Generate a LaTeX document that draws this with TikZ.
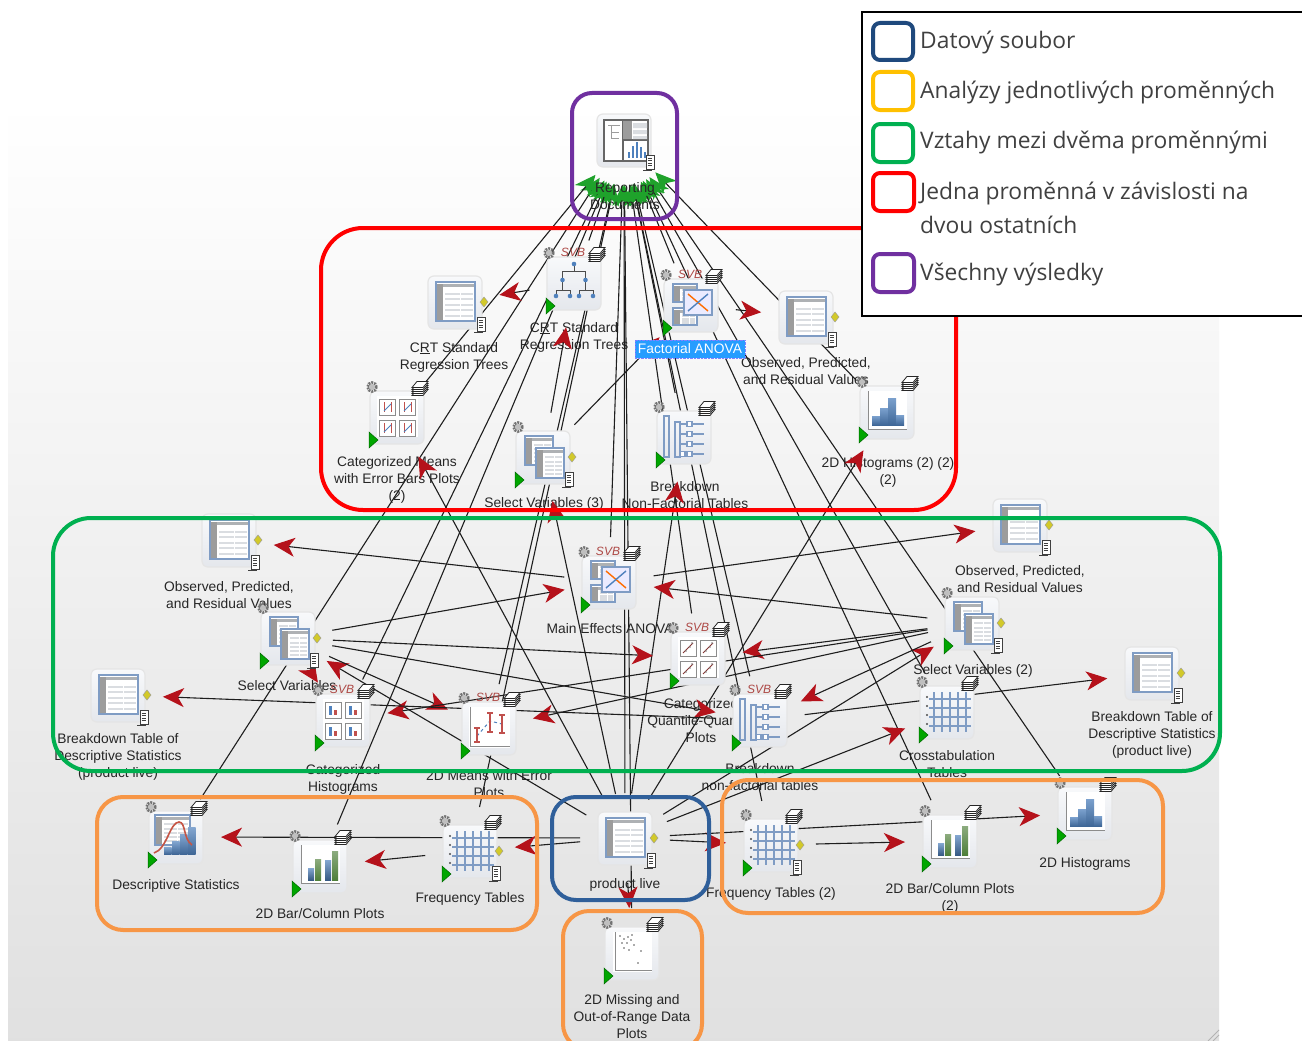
\documentclass[tikz,border=0pt]{standalone}
\usepackage{fontspec}
\setmainfont{Liberation Sans}
\newfontfamily\legfont{Open Sans}
\usetikzlibrary{arrows.meta}
\definecolor{cblue}{HTML}{7F9CC4}
\definecolor{cbar}{HTML}{4F81BD}
\definecolor{cgrn}{HTML}{4F7F3A}
\definecolor{cgray}{HTML}{9C9C9C}
\definecolor{cpale}{HTML}{DADDE1}
\definecolor{cred}{HTML}{C0504D}
\definecolor{arrred}{HTML}{B5121B}
\definecolor{arrgrn}{HTML}{1FA22B}
\definecolor{linec}{HTML}{1E1E1E}
\definecolor{boxpurple}{HTML}{7030A0}
\definecolor{boxred}{HTML}{FF0000}
\definecolor{boxgreen}{HTML}{00B050}
\definecolor{boxorange}{HTML}{F79646}
\definecolor{boxblue}{HTML}{2F5F9A}
\definecolor{boxnavy}{HTML}{1F497D}
\definecolor{boxyellow}{HTML}{FFC000}
\definecolor{legtext}{HTML}{404040}
\definecolor{icontop}{HTML}{F8F9FB}
\definecolor{iconbot}{HTML}{E4E7EC}
\tikzset{
  hub/.style={circle,minimum size=90pt,inner sep=0pt,outer sep=0pt},
  lbl/.style={align=center,inner sep=0pt,text=black!85,font=\fontsize{13.8}{17}\selectfont},
  redlink/.style={draw=linec,line width=1.1pt,-{Stealth[length=21pt,width=19pt,inset=6pt,color=arrred]}},
  grnlink/.style={draw=linec,line width=1.1pt,-{Stealth[length=21pt,width=19pt,inset=6pt,color=arrgrn]}},
  zone/.style={draw,line width=4pt},
  legbox/.style={draw,line width=4pt,rounded corners=7pt},
  legtxt/.style={anchor=west,inner sep=0pt,text=legtext,align=left,font=\legfont\fontsize{22.8}{34}\selectfont},
  svbtxt/.style={inner sep=0pt,text=cred!90!black,font=\itshape\fontsize{12}{13}\selectfont},
  frame/.style={draw=cblue,line width=1.1pt},
}
% ---------- decoration parts (local coordinates, icon centre = 0,0)
\newcommand\IBase{%
  \shade[rounded corners=6pt,top color=icontop,bottom color=iconbot,draw=black!10,line width=1.2pt] (-27,-26) rectangle (27,27);}
\newcommand\IGear{\draw[black!55,line width=2.8pt,dash pattern=on 1.8pt off 1pt] (-25,-30) circle (4.4pt);\fill[black!25] (-25,-30) circle (3pt);}
\newcommand\IStack{\begin{scope}[shift={(23,-29)}]
  \foreach \d in {4.5,2.5,.5,-1.5,-3.5}{\filldraw[fill=white,draw=black!85,line width=.8pt] (-8,3+\d) -- (-3,-3+\d) -- (8,-3+\d) -- (3,3+\d) -- cycle;}
  \end{scope}}
\newcommand\ITri{\filldraw[fill=green!65!black,draw=green!40!black,line width=.5pt] (-28,15) -- (-19,23) -- (-28,31) -- cycle;}
\newcommand\IDia{\filldraw[fill=yellow!80!black,draw=black!40,line width=.4pt] (29,-5) -- (33,0) -- (29,5) -- (25,0) -- cycle;}
\newcommand\IScroll{\begin{scope}[shift={(26,22)}]
  \filldraw[fill=white,draw=black!75,line width=.8pt] (-4,-7) rectangle (4,7);
  \foreach \d in {-4,-1.5,1,3.5}{\draw[black!75,line width=.8pt] (-2.3,\d) -- (2.3,\d);}
  \draw[black!75,line width=.8pt] (-7,8) -- (2,8);\end{scope}}
\newcommand\ISvb[1]{\node[svbtxt] (#1) at (-1,-31) {SVB};}
% ---------- art
\newcommand\tabl[4]{%
  \fill[white] (#1,#2) rectangle (#3,#4);
  \fill[cgray] (#1,#2+2) rectangle (#1+7,#4);
  \fill[cpale!80!black] (#1+7,#2+2) rectangle (#3,#2+5);
  \foreach \r in {.28,.42,.56,.70,.84}{\fill[cpale] (#1+9,{#2+((#4)-(#2))*\r}) rectangle (#3-2,{#2+((#4)-(#2))*\r+2});}
  \draw[white,line width=.8pt] ({(#1+#3+9)/2},#2+6) -- ({(#1+#3+9)/2},#4-1);
  \draw[frame] (#1,#2) rectangle (#3,#4);}
\newcommand\ArtTable{\tabl{-19}{-20}{20}{19}}
\newcommand\ArtDouble{\tabl{-18}{-21}{10}{8}\tabl{-7}{-9}{21}{21}}
\newcommand\ArtAnova{\tabl{-18}{-21}{6}{-3}\tabl{-18}{3}{6}{20}
  \filldraw[fill=white!92!blue,draw=cblue,line width=1.2pt] (-7,-15) rectangle (21,10);
  \draw[orange!85!red,line width=1.4pt] (-3,-11) -- (17,6);
  \draw[cbar,line width=1.4pt] (-3,6) -- (17,-11);}
\newcommand\ArtTree{\begin{scope}[draw=black!70,line width=1pt]
  \draw (0,-19) -- (0,-12) (-11.5,-3) -- (-11.5,-12) -- (11.5,-12) -- (11.5,-3)
   (-18,13) -- (-18,7) -- (-4,7) -- (-4,13) (5,13) -- (5,7) -- (19,7) -- (19,13) (-11.5,-3) -- (-11.5,7) (11.5,-3) -- (11.5,7);
  \end{scope}
  \foreach \p in {(0,-19),(-11.5,-3),(11.5,-3),(-18,13),(-4,13),(5,13),(19,13)}{\fill[cbar] \p circle (2.3pt);}}
\newcommand\ArtBreak{\begin{scope}[draw=cblue,line width=1.1pt]
  \draw (-20,-21) rectangle (-15,20) (-9,-15) rectangle (-4,20);
  \foreach \y in {-13,-3,7,17}{\draw (-4,\y) -- (20,\y);\filldraw[fill=white] (3,\y-2.5) rectangle (8,\y+2.5);}
  \filldraw[fill=white] (-4,14.5) rectangle (1,19.5);
  \end{scope}}
\newcommand\ArtGrid{\foreach \x in {-13,-5,3,11,19}{\draw[cblue,line width=1.1pt] (\x,-20) -- (\x,20);}
  \foreach \y in {-13,-4,5,14}{\draw[cblue,line width=1.1pt] (-18,\y) -- (24,\y);}
  \foreach \y in {-15,-6,3,12}{\fill[black!70] (-20,\y) circle (1.2pt);}}
\newcommand\ArtBars{\fill[white] (-19,-21) rectangle (20,18);\draw[black!45,line width=.9pt] (-19,-21) -- (-19,17) -- (20,17);
  \foreach \x/\h in {-12/12,5/20}{\shade[bottom color=cbar!70!black,top color=cbar!70] (\x,14) rectangle (\x+6,14-\h);}
  \foreach \x/\h in {-5/21,12/29}{\shade[bottom color=cgrn,top color=cgrn!65] (\x,14) rectangle (\x+6,14-\h);}}
\newcommand\ArtHist{\fill[white] (-19,-21) rectangle (20,18);\draw[black!45,line width=.9pt] (-19,-21) -- (-19,17) -- (20,17);
  \foreach \x/\h in {-15/9,-7/17,1/27,9/10}{\shade[bottom color=cbar!80!black,top color=cbar!75] (\x,13) rectangle (\x+8,13-\h);}}
\newcommand\ArtCurve{\tabl{-21}{-22}{14}{8}
  \foreach \x/\h in {-12/7,-4/13,4/20,12/27}{\shade[bottom color=cbar!80!black,top color=cbar!70] (\x,17) rectangle (\x+7.6,17-\h);}
  \draw[cred!90!orange,line width=1.6pt] (-22,16) .. controls (-9,12) and (-6,-15) .. (3,-15) .. controls (10,-15) and (7,2) .. (16,8);}
\newcommand\ArtMiss{\fill[white] (-19,-21) rectangle (20,19);\draw[black!45,line width=.9pt] (-17,-21) -- (-17,17) -- (20,17);
  \foreach \p in {(-12,-17),(-8,-14),(-4,-16),(0,-18),(-10,-10),(-5,-10),(-1,-13),(2,-8),(-8,-5),(-3,-3),(9,-2),(6,10)}{\fill[black!65] \p circle (.9pt);}}
\newcommand\panel[3]{\begin{scope}[shift={(#1,#2)}]\filldraw[fill=white,draw=black!45,line width=.8pt] (-8,-8) rectangle (8,8);#3\end{scope}}
\newcommand\pmean{\draw[cred,line width=.9pt] (-3,-5) -- (-3,5) (4,-5) -- (4,5);\draw[cbar,line width=.8pt] (-3,4) -- (4,-3);}
\newcommand\phist{\fill[cbar] (-4,5) rectangle (-1,-4);\fill[cred] (1,5) rectangle (4,0);}
\newcommand\pqq{\draw[cred!70!black,line width=.9pt] (-5,5) -- (5,-5);\fill[black!50] (-2,3) circle (.8pt) (2,-1) circle (.8pt) (4,-5) circle (.8pt);}
\newcommand\ArtPanels[1]{\fill[white] (-20,-21) rectangle (21,20);\panel{-10}{-10}{#1}\panel{10}{-10}{#1}\panel{-10}{11}{#1}\panel{10}{11}{#1}}
\newcommand\ArtMeans{\fill[white] (-20,-21) rectangle (21,20);\draw[black!45,line width=.9pt] (-19,-21) -- (-19,18) -- (21,18);
  \draw[cbar,line width=1pt,dashed] (-12,8) -- (1,-7) -- (13,-4);
  \draw[cred,line width=1.1pt] (-12,0) -- (-12,14) (-15,0) -- (-9,0) (-15,14) -- (-9,14) (1,-15) -- (1,4) (-2,-15) -- (4,-15) (-2,4) -- (4,4) (13,-13) -- (13,5) (10,-13) -- (16,-13) (10,5) -- (16,5);}
\newcommand\ArtReport{\fill[white] (-20,-20) rectangle (24,21);\draw[black!60,line width=1.1pt] (-20,-20) rectangle (24,21);
  \draw[black!60,line width=1.1pt] (-1,-20) -- (-1,21) (-1,0) -- (24,0);
  \draw[cgray,line width=.8pt] (-16,-15) -- (-4,-15) (-13,-15) -- (-13,-2) -- (-5,-2) (-13,-8) -- (-5,-8);
  \fill[cgray] (-1,-19) rectangle (8,-1);\fill[cpale] (9,-17) rectangle (23,-12) (9,-10) rectangle (23,-6) (9,-4) rectangle (23,-1);
  \foreach \x/\h in {4/6,8/12,12/16,16/11,20/6}{\fill[cbar] (\x,18) rectangle (\x+2.4,18-\h);}}
\newcommand\Ico[3]{\begin{scope}[shift={(#1,#2)}]\IBase #3\end{scope}}
\newcommand\Lab[4]{\node[lbl] (#1) at (#2,#3) {#4};}
\newcommand\Crt{C\underline{R}T Standard\\Regression Trees}
\begin{document}
\begin{tikzpicture}[x=1pt,y=-1pt]
\useasboundingbox (0,0) rectangle (1302,1041);
\fill[white] (0,0) rectangle (1302,1041);
\shade[top color=white,bottom color=black!12,middle color=black!6] (8,100) rectangle (1219,1041);
\draw[black!30,line width=.8pt] (1208,1041) -- (1219,1030) (1213,1041) -- (1219,1035);
% ---------- anchors
\node[hub] (rep) at (624,140) {};
\node[hub] (crtree) at (574,283) {};
\node[hub] (crtab) at (455,302) {};
\node[hub] (fanova) at (691,305) {};
\node[hub] (obst) at (806,317) {};
\node[hub] (cmeans) at (397,417) {};
\node[hub] (sviii) at (543,457) {};
\node[hub] (bdtop) at (684,437) {};
\node[hub] (histii) at (887,412) {};
\node[hub] (obsl) at (229,540) {};
\node[hub] (obsr) at (1020,525) {};
\node[hub] (main) at (609,582) {};
\node[hub] (sv) at (288,638) {};
\node[hub] (svii) at (972,623) {};
\node[hub] (catq) at (698,658) {};
\node[hub] (bdbot) at (760,720) {};
\node[hub] (cross) at (947,712) {};
\node[hub] (btr) at (1152,673) {};
\node[hub] (btl) at (118,695) {};
\node[hub] (cathist) at (343,720) {};
\node[hub] (means) at (489,728) {};
\node[hub] (desc) at (176,837) {};
\node[hub] (barl) at (320,866) {};
\node[hub] (freql) at (470,851) {};
\node[hub] (prod) at (625,838) {};
\node[hub] (freqr) at (771,845) {};
\node[hub] (barr) at (950,841) {};
\node[hub] (hist) at (1085,813) {};
\node[hub] (miss) at (632,953) {};
% ---------- labels
\Lab{lcrtab}{454}{357}{\Crt}
\Lab{lcrtree}{574}{337}{\Crt}
\Lab{lobst}{806}{371}{Observed, Predicted,\\and Residual Values}
\Lab{lcmeans}{397}{480}{Categorized Means\\with Error Bars Plots\\(2)}
\Lab{lsviii}{544}{504}{Select Variables (3)}
\Lab{lbdtop}{685}{495}{Breakdown\\Non-Factorial Tables}
\Lab{lhistii}{888}{472}{2D Histograms (2) (2)\\(2)}
\Lab{lobsl}{229}{595}{Observed, Predicted,\\and Residual Values}
\Lab{lobsr}{1020}{579}{Observed, Predicted,\\and Residual Values}
\Lab{lmain}{610}{629}{Main Effects ANOVA}
\Lab{lsv}{287}{686}{Select Variables}
\Lab{lsvii}{973}{671}{Select Variables (2)}
\Lab{lcatq}{701}{721}{Categorized\\Quantile-Quantile\\Plots}
\Lab{lbdbot}{760}{777}{Breakdown\\non-factorial tables}
\Lab{lcross}{947}{764}{Crosstabulation\\Tables}
\Lab{lbtr}{1152}{735}{Breakdown Table of\\Descriptive Statistics\\(product live)}
\Lab{lbtl}{118}{757}{Breakdown Table of\\Descriptive Statistics\\(product live)}
\Lab{lcathist}{343}{779}{Categorized\\Histograms}
\Lab{lmeans}{489}{784}{2D Means with Error\\Plots}
\Lab{ldesc}{176}{886}{Descriptive Statistics}
\Lab{lbarl}{320}{914}{2D Bar/Column Plots}
\Lab{lfreql}{470}{899}{Frequency Tables}
\Lab{lprod}{625}{885}{product live}
\Lab{lfreqr}{771}{894}{Frequency Tables (2)}
\Lab{lbarr}{950}{898}{2D Bar/Column Plots\\(2)}
\Lab{lhist}{1085}{864}{2D Histograms}
\Lab{lmiss}{632}{1016.5}{2D Missing and\\Out-of-Range Data\\Plots}
% ---------- connectors
\foreach \a in {desc,barl,freql,prod,miss,freqr,barr,hist,cross,bdbot,catq,main,means,cathist,cmeans,crtree,fanova,bdtop,histii}{\draw[grnlink] (\a) -- (rep);}
\foreach \a/\b in {prod/desc,prod/freql,freql/barl,prod/freqr,prod/hist,freqr/barr,prod/miss,prod/sv,prod/svii,prod/sviii,prod/bdtop,prod/cross,prod/cmeans,prod/histii,
  sv/main,sv/catq,sv/bdbot,sv/means,sv/cathist,svii/main,svii/catq,svii/bdbot,svii/means,svii/cathist,main/obsl,main/obsr,bdbot/btl,bdbot/btr,
  sviii/crtree,sviii/fanova,crtree/crtab,fanova/obst}{\draw[redlink] (\a) -- (\b);}
\Lab{lrep}{625}{196}{Reporting\\Documents}
% ---------- icons
\Ico{624}{140}{\ArtReport\IScroll}
\Ico{574}{283}{\ArtTree\IGear\ISvb{svba}\IStack\ITri}
\Ico{455}{302}{\ArtTable\IDia\IScroll}
\Ico{691}{305}{\ArtAnova\IGear\ISvb{svbb}\IStack\ITri}
\Ico{806}{317}{\ArtTable\IDia\IScroll}
\Ico{397}{417}{\ArtPanels{\pmean}\IGear\IStack\ITri}
\Ico{543}{457}{\ArtDouble\IGear\IDia\IScroll\ITri}
\Ico{684}{437}{\ArtBreak\IGear\IStack\ITri}
\Ico{887}{412}{\ArtHist\IGear\IStack\ITri}
\Ico{229}{540}{\ArtTable\IDia\IScroll}
\Ico{1020}{525}{\ArtTable\IDia\IScroll}
\Ico{609}{582}{\ArtAnova\IGear\ISvb{svbc}\IStack\ITri}
\Ico{288}{638}{\ArtDouble\IGear\IDia\IScroll\ITri}
\Ico{972}{623}{\ArtDouble\IGear\IDia\IScroll\ITri}
\Ico{698}{658}{\ArtPanels{\pqq}\IGear\ISvb{svbd}\IStack\ITri}
\Ico{760}{720}{\ArtBreak\IGear\ISvb{svbe}\IStack\ITri}
\Ico{947}{712}{\ArtGrid\IGear\IStack\ITri}
\Ico{1152}{673}{\ArtTable\IDia\IScroll}
\Ico{118}{695}{\ArtTable\IDia\IScroll}
\Ico{343}{720}{\ArtPanels{\phist}\IGear\ISvb{svbf}\IStack\ITri}
\Ico{489}{728}{\ArtMeans\IGear\ISvb{svbg}\IStack\ITri}
\Ico{176}{837}{\ArtCurve\IGear\IStack\ITri}
\Ico{320}{866}{\ArtBars\IGear\IStack\ITri}
\Ico{470}{851}{\ArtGrid\IGear\IStack\IDia\IScroll\ITri}
\Ico{625}{838}{\ArtTable\IDia\IScroll}
\Ico{771}{845}{\ArtGrid\IGear\IStack\IDia\IScroll\ITri}
\Ico{950}{841}{\ArtBars\IGear\IStack\ITri}
\Ico{1085}{813}{\ArtHist\IGear\IStack\ITri}
\Ico{632}{953}{\ArtMiss\IGear\IStack\ITri}
% highlighted caption
\node[fill=blue!45!cyan!85!white,draw=blue!50,densely dotted,text=white,inner sep=0pt,minimum width=110pt,minimum height=18pt,font=\fontsize{13.8}{17}\selectfont] (lfanova) at (690,349) {Factorial ANOVA};
% ---------- zones
\draw[zone,boxred,rounded corners=42pt] (321,228) rectangle (956,510);
\draw[zone,boxgreen,rounded corners=38pt] (53,518) rectangle (1220,771);
\draw[zone,boxorange,rounded corners=26pt] (97,797) rectangle (537,930);
\draw[zone,boxorange,rounded corners=26pt] (722,780) rectangle (1163,913);
\draw[zone,boxorange,rounded corners=26pt] (563,911) rectangle (702,1050);
\draw[zone,boxblue,rounded corners=24pt] (552,797) rectangle (709,900);
\draw[zone,boxpurple,rounded corners=20pt] (572,93) rectangle (677,219);
% ---------- legend
\filldraw[fill=white,draw=black,line width=1.6pt] (862,12) rectangle (1312,316);
\draw[legbox,boxnavy] (873,23) rectangle (913,60);
\draw[legbox,boxyellow] (873,72) rectangle (913,110);
\draw[legbox,boxgreen] (873,124) rectangle (913,162);
\draw[legbox,boxred] (873,173) rectangle (914,211);
\draw[legbox,boxpurple] (873,254) rectangle (914,292);
\node[legtxt] (ta) at (920,43) {Datový soubor};
\node[legtxt] (tb) at (920,93) {Analýzy jednotlivých proměnných};
\node[legtxt] (tc) at (920,143) {Vztahy mezi dvěma proměnnými};
\node[legtxt] (td) at (920,208) {Jedna proměnná v závislosti na\\dvou ostatních};
\node[legtxt] (te) at (920,275) {Všechny výsledky};
\end{tikzpicture}
\end{document}
